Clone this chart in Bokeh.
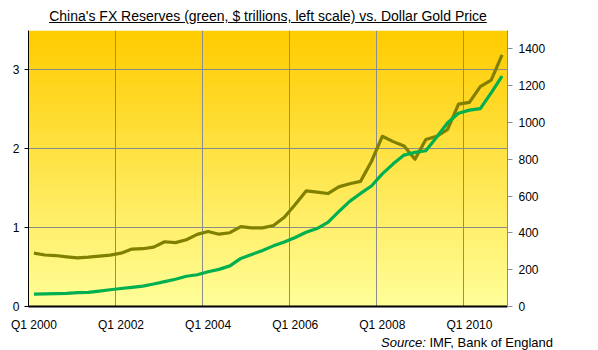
import numpy as np
from bokeh.plotting import figure
from bokeh.models import Div, Range1d, LinearAxis, FixedTicker
from bokeh.layouts import column
from bokeh.embed import file_html
from bokeh.resources import INLINE

years = list(range(2000, 2011))
quarters = [f"Q{q} {y}" for y in years for q in (1, 2, 3, 4)]

# China FX reserves, $ trillions (quarter end)
fx_reserves = [0.157, 0.159, 0.163, 0.166,
               0.176, 0.180, 0.195, 0.212,
               0.228, 0.243, 0.258, 0.286,
               0.316, 0.346, 0.384, 0.403,
               0.440, 0.471, 0.515, 0.610,
               0.659, 0.711, 0.769, 0.819,
               0.875, 0.941, 0.988, 1.066,
               1.202, 1.333, 1.434, 1.528,
               1.682, 1.809, 1.920, 1.955,
               1.975, 2.150, 2.330, 2.450,
               2.490, 2.510, 2.710, 2.920]

# Dollar gold price (quarterly average)
gold_price = [290, 280, 277, 270,
              264, 268, 274, 279,
              290, 312, 314, 323,
              352, 347, 363, 392,
              408, 393, 401, 434,
              427, 427, 440, 485,
              554, 628, 622, 614,
              650, 667, 680, 788,
              925, 896, 872, 800,
              908, 925, 962, 1100,
              1109, 1195, 1230, 1367]

tick_labels = ["Q1 2000", "Q1 2002", "Q1 2004", "Q1 2006", "Q1 2008", "Q1 2010"]
left_ticks = [0, 1, 2, 3]
right_ticks = [0, 200, 400, 600, 800, 1000, 1200, 1400]

x = list(range(len(quarters)))
n = len(quarters)
label_pos = [quarters.index(t) for t in tick_labels]
boundaries = [i - 0.5 for i in label_pos[1:]]

FONT = "Liberation Sans"

p = figure(frame_width=479, frame_height=276, output_backend="svg", toolbar_location=None,
           x_range=Range1d(-0.5, n - 0.5), y_range=Range1d(0, 3.5),
           min_border_left=28, min_border_right=91, min_border_top=6,
           min_border_bottom=26, margin=0)
p.title = None
p.outline_line_color = None
p.background_fill_color = None
p.border_fill_color = "white"

# gradient background
rows = 276
img = np.zeros((rows, 2), dtype=np.uint32)
view = img.view(dtype=np.uint8).reshape((rows, 2, 4))
top = np.array([255, 204, 0])
bot = np.array([255, 255, 153])
for i in range(rows):
    t = i / (rows - 1)  # 0 at bottom
    c = bot * (1 - t) + top * t
    view[i, :, 0] = int(c[0]); view[i, :, 1] = int(c[1]); view[i, :, 2] = int(c[2]); view[i, :, 3] = 255
p.image_rgba(image=[img], x=-0.5, y=0, dw=n, dh=3.5, level="image")

p.extra_y_ranges = {"gold": Range1d(0, 1500)}

p.line(x, gold_price, y_range_name="gold", line_color="#808000", line_width=3.2,
       line_join="round")
p.line(x, fx_reserves, line_color="#00B050", line_width=3.2, line_join="round")

# axes
xa = p.xaxis[0]
xa.ticker = FixedTicker(ticks=label_pos)
xa.major_label_overrides = {pos: lab for pos, lab in zip(label_pos, tick_labels)}
xa.major_tick_line_color = None
xa.minor_tick_line_color = None
xa.axis_line_color = "black"
xa.axis_line_width = 2
xa.major_label_standoff = 5
xa.major_label_text_font = FONT
xa.major_label_text_font_size = "12px"
xa.major_label_text_color = "black"

ya = p.yaxis[0]
ya.ticker = FixedTicker(ticks=left_ticks)
ya.axis_line_color = "black"
ya.major_tick_line_color = "black"
ya.major_tick_in = 0
ya.major_tick_out = 4
ya.minor_tick_line_color = None
ya.major_label_standoff = 5
ya.major_label_text_font = FONT
ya.major_label_text_font_size = "12px"
ya.major_label_text_color = "black"

ra = LinearAxis(y_range_name="gold", ticker=FixedTicker(ticks=right_ticks))
ra.axis_line_color = "#8c8c8c"
ra.major_tick_line_color = "#8c8c8c"
ra.major_tick_in = 0
ra.major_tick_out = 5
ra.minor_tick_line_color = None
ra.major_label_standoff = 6
ra.major_label_text_font = FONT
ra.major_label_text_font_size = "12px"
ra.major_label_text_color = "black"
p.add_layout(ra, "right")

p.xgrid.ticker = FixedTicker(ticks=boundaries)
p.xgrid.grid_line_color = "#8c8c8c"
p.ygrid.ticker = FixedTicker(ticks=left_ticks[1:])
p.ygrid.grid_line_color = "#8c8c8c"

title = Div(text="<u>China's FX Reserves (green, $ trillions, left scale) vs. Dollar Gold Price</u>",
            width=536, height=24, margin=0,
            styles={"font-family": FONT, "font-size": "14px", "color": "black",
                    "text-align": "center", "line-height": "33px"})
source = Div(text="<i>Source:</i> IMF, Bank of England", width=553, height=18, margin=0,
             styles={"font-family": FONT, "font-size": "13px", "color": "black",
                     "text-align": "right"})

layout = column(title, p, source, spacing=0)
open("out.html", "w").write(file_html(layout, INLINE))
